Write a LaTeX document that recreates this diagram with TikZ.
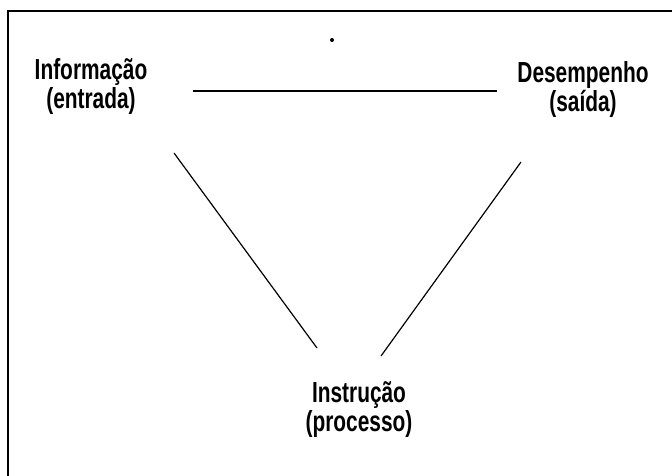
\documentclass[tikz,border=0pt]{standalone}
\usepackage{fontspec}
\setmainfont{Liberation Sans}[FakeStretch=0.72]
\begin{document}
\begin{tikzpicture}[x=1pt,y=-1pt,
  label/.style={font=\bfseries\fontsize{29}{29}\selectfont, align=center, inner sep=0pt},
  edge/.style={line width=1.2pt},
  frame/.style={line width=2pt}]
\useasboundingbox (0,0) rectangle (672,476);
% open frame: top and left sides only
\draw[frame] (672,11) -- (8,11) -- (8,476);
% the three labels
\node[label] (info) at (91,87) {Informação\\(entrada)};
\node[label] (desemp) at (583,90) {Desempenho\\(saída)};
\node[label] (instr) at (359,410) {Instrução\\(processo)};
% line end points
\coordinate (topL) at (193,91);
\coordinate (topR) at (497,91);
\coordinate (leftA) at (174,153);
\coordinate (leftB) at (317,348);
\coordinate (rightA) at (521,162);
\coordinate (rightB) at (381,356);
\draw[edge] (topL) -- (topR);
\draw[edge] (leftA) -- (leftB);
\draw[edge] (rightA) -- (rightB);
% small dot above the top line
\fill (332,40) circle (2);
\end{tikzpicture}
\end{document}
